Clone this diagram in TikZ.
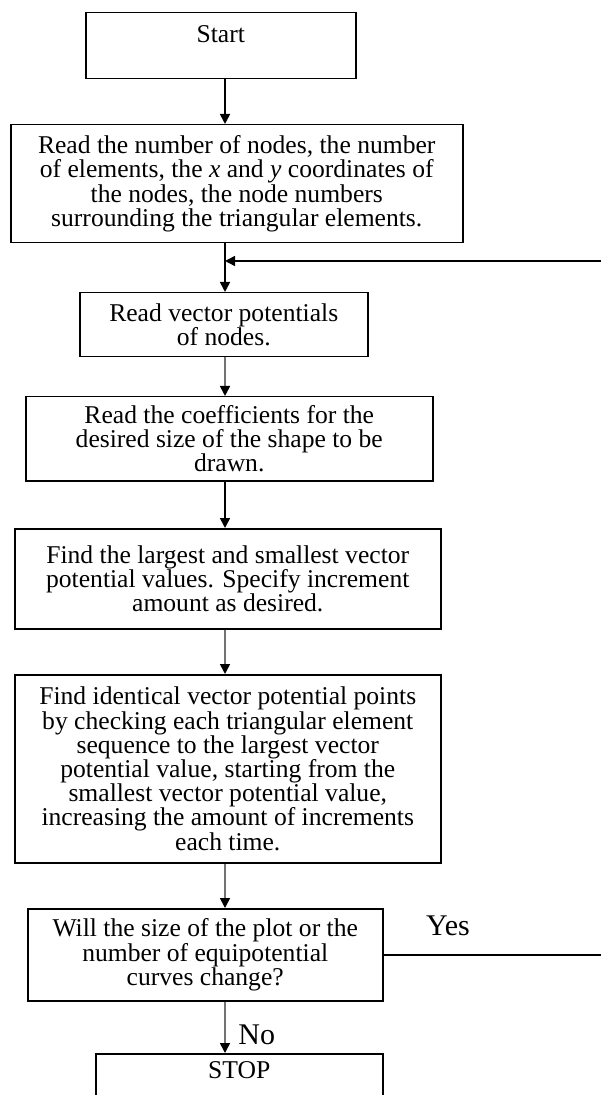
\documentclass[tikz,border=0pt]{standalone}
\usepackage{fontspec}
\setmainfont{Liberation Serif}
\usetikzlibrary{arrows.meta,positioning}

\begin{document}
\begin{tikzpicture}[
  x=0.5pt, y=-0.5pt,
  box/.style={draw, line width=0.75pt, anchor=north west, inner sep=1pt, align=center, font=\fontsize{12.8}{12.1}\selectfont},
  arr/.style={-{Triangle[length=5pt, width=5pt]}, line width=0.8pt},
  greyarr/.style={arr, draw=black!55, -{Triangle[length=5pt, width=5pt, color=black]}},
  lbl/.style={font=\fontsize{15}{16}\selectfont}
]
  \useasboundingbox (0,0) rectangle (600,1095);
  \coordinate (spine) at (225,0);

  \node[box, minimum width=135pt, minimum height=33pt] (start) at (85,12) {Start\\\mbox{}};
  \node[box, minimum width=226pt, minimum height=59pt] (readin) at (10,124) {Read the number of nodes, the number\\of elements, the \textit{x} and \textit{y} coordinates of\\the nodes, the node numbers\\surrounding the triangular elements.};
  \node[box, minimum width=144pt, minimum height=32pt] (vecpot) at (79,292) {Read vector potentials\\of nodes.};
  \node[box, minimum width=203.5pt, minimum height=42pt] (coeff) at (25,396) {Read the coefficients for the\\desired size of the shape to be\\drawn.};
  \node[box, minimum width=213pt, minimum height=50pt] (minmax) at (14,528) {Find the largest and smallest vector\\potential values. Specify increment\\amount as desired.};
  \node[box, minimum width=213pt, minimum height=94pt] (ident) at (14,674) {Find identical vector potential points\\by checking each triangular element\\sequence to the largest vector\\potential value, starting from the\\smallest vector potential value,\\increasing the amount of increments\\each time.};
  \node[box, minimum width=177.5pt, minimum height=46pt] (change) at (27,908) {Will the size of the plot or the\\number of equipotential\\curves change?};
  \node[box, minimum width=143.5pt, minimum height=28.5pt] (stop) at (95,1053) {STOP\\\mbox{}};

  \coordinate (join) at (225,261);
  \coordinate (far) at (606,261);

  \draw[arr] (start.south -| spine) -- (readin.north -| spine);
  \draw[arr] (readin.south -| spine) -- (vecpot.north -| spine);
  \draw[greyarr] (vecpot.south -| spine) -- (coeff.north -| spine);
  \draw[arr] (coeff.south -| spine) -- (minmax.north -| spine);
  \draw[greyarr] (minmax.south -| spine) -- (ident.north -| spine);
  \draw[greyarr] (ident.south -| spine) -- (change.north -| spine);
  \draw[greyarr] (change.south -| spine) -- node[lbl, right=3pt, pos=0.65] (no) {No} (stop.north -| spine);

  % loop back when the plot is to be redrawn
  \draw[line width=0.75pt] (change.east) -- node[lbl, above=6pt, pos=0.29] (yes) {Yes} (change.east -| far) -- (far);
  \draw[arr, line width=0.75pt] (far) -- (join);
\end{tikzpicture}
\end{document}
